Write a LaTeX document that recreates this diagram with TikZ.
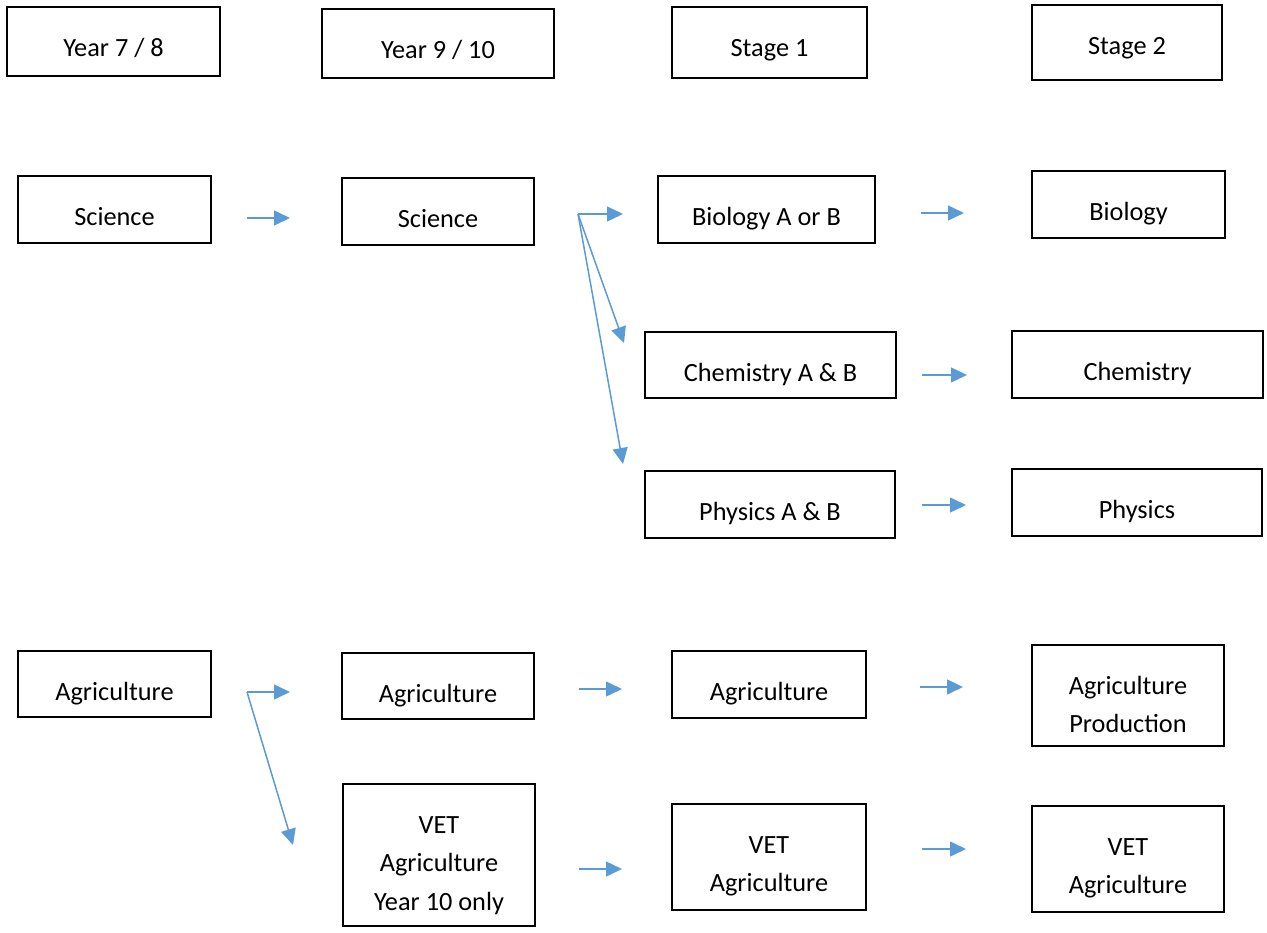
\documentclass[tikz,border=0pt]{standalone}
\usepackage{fontspec}
\setmainfont{Carlito}
\usetikzlibrary{arrows.meta}
\definecolor{arrowblue}{HTML}{5B9BD5}
\newcommand\bxt[3]{\parbox[c][#2pt][t]{#1pt}{\centering\rule{0pt}{49.5pt}#3}}
\begin{document}
\begin{tikzpicture}[x=1pt,y=-1pt,
  box/.style={draw=black,line width=1.6pt,inner sep=0pt,outer sep=0pt,font=\fontsize{26.3}{38.3}\selectfont},
  flow/.style={draw=arrowblue,line width=1.5pt,-{Triangle[length=16pt,width=15pt]}}]
\useasboundingbox (0,0) rectangle (1267,933);
% headers
\node[box] (y78) at (113.5,41.5) {\bxt{213}{69}{Year 7 / 8}};
\node[box] (y910) at (438,43.5) {\bxt{232}{69}{Year 9 / 10}};
\node[box] (st1) at (769.5,42.5) {\bxt{195}{71}{Stage 1}};
\node[box] (st2) at (1127,42.5) {\bxt{190}{75}{Stage 2}};
% science
\node[box] (sci1) at (114.5,209.5) {\bxt{193}{67}{Science}};
\node[box] (sci2) at (438,211.5) {\bxt{192}{67}{Science}};
\node[box] (bio1) at (766.5,209.5) {\bxt{217}{67}{Biology A or B}};
\node[box] (bio2) at (1128.5,204.5) {\bxt{193}{67}{Biology}};
\node[box] (chem1) at (770.5,365) {\bxt{251}{66}{Chemistry A \& B}};
\node[box] (chem2) at (1137.5,364.5) {\bxt{251}{67}{Chemistry}};
\node[box] (phys1) at (770,504.5) {\bxt{250}{67}{Physics A \& B}};
\node[box] (phys2) at (1137,502.5) {\bxt{250}{67}{Physics}};
% agriculture
\node[box] (agr1) at (114.5,684) {\bxt{193}{66}{Agriculture}};
\node[box] (agr2) at (438,686) {\bxt{192}{66}{Agriculture}};
\node[box] (agr3) at (769,684.5) {\bxt{194}{67}{Agriculture}};
\node[box] (agrP) at (1128,695.5) {\bxt{192}{101}{Agriculture\\Production}};
\node[box] (vet1) at (439,855) {\bxt{192}{142}{VET\\Agriculture\\Year 10 only}};
\node[box] (vet2) at (769,857) {\bxt{194}{106}{VET\\Agriculture}};
\node[box] (vet3) at (1128,859) {\bxt{192}{106}{VET\\Agriculture}};
% arrow end points
\coordinate (a1s) at (247,218); \coordinate (a1e) at (290,218);
\coordinate (fs) at (578,214);
\coordinate (f1) at (623,214); \coordinate (f2) at (624,343); \coordinate (f3) at (623,464);
\coordinate (b1s) at (921,213); \coordinate (b1e) at (964,213);
\coordinate (c1s) at (922,375); \coordinate (c1e) at (967,375);
\coordinate (p1s) at (922,505); \coordinate (p1e) at (966,505);
\coordinate (gs) at (247,692);
\coordinate (g1) at (290,692); \coordinate (g2) at (293,845);
\coordinate (h1s) at (579,689); \coordinate (h1e) at (622,689);
\coordinate (h2s) at (920,687); \coordinate (h2e) at (963,687);
\coordinate (v1s) at (579,869); \coordinate (v1e) at (622,869);
\coordinate (v2s) at (922,849); \coordinate (v2e) at (966,849);
% arrows
\draw[flow] (a1s) -- (a1e);
\draw[flow] (fs) -- (f1);
\draw[flow] (fs) -- (f2);
\draw[flow] (fs) -- (f3);
\draw[flow] (b1s) -- (b1e);
\draw[flow] (c1s) -- (c1e);
\draw[flow] (p1s) -- (p1e);
\draw[flow] (gs) -- (g1);
\draw[flow] (gs) -- (g2);
\draw[flow] (h1s) -- (h1e);
\draw[flow] (h2s) -- (h2e);
\draw[flow] (v1s) -- (v1e);
\draw[flow] (v2s) -- (v2e);
\end{tikzpicture}
\end{document}
